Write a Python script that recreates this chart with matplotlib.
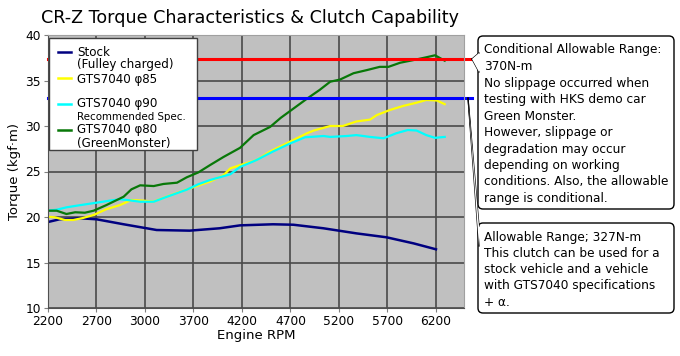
import numpy as np
import matplotlib
matplotlib.use('Agg')
import matplotlib.pyplot as plt
from matplotlib.patches import Rectangle, FancyBboxPatch, Polygon
from matplotlib.lines import Line2D
from matplotlib.transforms import IdentityTransform

# data
stock_rpm = [2200, 2320, 2530, 2700, 2980, 3320, 3660, 3970, 4180, 4520, 4730, 5040, 5380, 5690, 5970, 6200]
stock_tq = [19.45, 19.75, 19.86, 19.75, 19.2, 18.57, 18.5, 18.76, 19.08, 19.2, 19.15, 18.76, 18.2, 17.77, 17.1, 16.45]

p85_rpm = [2200, 2270, 2375, 2460, 2560, 2670, 2800, 2940, 3060, 3180, 3290, 3490, 3664, 3870, 4010, 4080,
           4180, 4350, 4490, 4700, 4870, 4940, 5110, 5240, 5380, 5520, 5590, 5725, 5860, 6000, 6100, 6210, 6290]
p85_tq = [20.03, 19.97, 19.67, 19.67, 19.89, 20.22, 20.85, 21.3, 21.87, 21.8, 21.7, 22.5, 23.15, 23.9, 24.6, 25.35,
          25.7, 26.26, 27.2, 28.3, 29.2, 29.5, 30.0, 30.0, 30.5, 30.7, 31.2, 31.76, 32.2, 32.56, 32.86, 32.8, 32.4]

p90_rpm = [2200, 2290, 2390, 2530, 2700, 2840, 2940, 3010, 3150, 3290, 3420, 3630, 3750, 3870, 4080, 4180,
           4350, 4520, 4700, 4850, 5040, 5110, 5280, 5380, 5520, 5660, 5790, 5910, 6000, 6100, 6190, 6290]
p90_tq = [20.7, 20.8, 21.06, 21.3, 21.57, 21.8, 21.95, 21.87, 21.68, 21.68, 22.2, 23.0, 23.6, 24.06, 24.7, 25.5,
          26.26, 27.2, 28.1, 28.76, 28.9, 28.8, 28.9, 29.0, 28.8, 28.65, 29.2, 29.56, 29.5, 29.0, 28.7, 28.8]

p80_rpm = [2200, 2290, 2390, 2480, 2580, 2670, 2800, 2980, 3060, 3150, 3290, 3390, 3530, 3630, 3750, 3870,
           4010, 4180, 4320, 4490, 4600, 4870, 5000, 5110, 5210, 5350, 5490, 5620, 5710, 5830, 5970, 6100, 6190, 6290]
p80_tq = [20.69, 20.69, 20.33, 20.52, 20.47, 20.69, 21.3, 22.23, 23.04, 23.48, 23.4, 23.63, 23.77, 24.36, 24.9, 25.7,
          26.6, 27.6, 29.0, 29.9, 30.9, 33.0, 33.96, 34.87, 35.1, 35.8, 36.15, 36.5, 36.5, 36.95, 37.25, 37.55, 37.77, 37.18]

limit_cond = 37.4   # 370N-m
limit_std = 33.1    # 327N-m

xticks = [2200, 2700, 3200, 3700, 4200, 4700, 5200, 5700, 6200]
xlabels = ['2200', '2700', '3000', '3700', '4200', '4700', '5200', '5700', '6200']
yticks = [10, 15, 20, 25, 30, 35, 40]

box1_lines = ['Conditional Allowable Range:', '370N-m', 'No slippage occurred when',
              'testing with HKS demo car', 'Green Monster.', 'However, slippage or',
              'degradation may occur', 'depending on working',
              'conditions. Also, the allowable', 'range is conditional.']
box2_lines = ['Allowable Range; 327N-m', 'This clutch can be used for a',
              'stock vehicle and a vehicle', 'with GTS7040 specifications', '+ \u03b1.']

W, H = 680, 356
fig = plt.figure(figsize=(W/100, H/100), dpi=100)
fig.patch.set_facecolor('white')

def fx(x):
    return x / W
def fy(y):
    return 1 - y / H

ax = fig.add_axes([fx(48), fy(308), (464-48)/W, (308-35)/H])
ax.set_facecolor('#c0c0c0')
ax.set_xlim(2200, 6489)
ax.set_ylim(10, 40)
ax.set_xticks(xticks)
ax.set_xticklabels(xlabels)
ax.set_yticks(yticks)
ax.tick_params(labelsize=8.8, length=3, color='#808080', pad=2)
ax.grid(True, color='#4a4a4a', lw=1.2)
ax.set_axisbelow(True)
for s in ['left', 'bottom']:
    ax.spines[s].set_color('#505050')
for s in ['top', 'right']:
    ax.spines[s].set_color('#a0a0a0')

ax.plot(stock_rpm, stock_tq, color='#000080', lw=1.8)
ax.plot(p85_rpm, p85_tq, color='#ffff00', lw=1.6)
ax.plot(p90_rpm, p90_tq, color='#00ffff', lw=1.6)
ax.plot(p80_rpm, p80_tq, color='#087808', lw=1.6)

ax.plot([2200, 6575], [limit_cond, limit_cond], color='#ff0000', lw=2.2, clip_on=False)
ax.plot([2200, 6575], [limit_std, limit_std], color='#0000ff', lw=2.2, clip_on=False)

ax.set_xlabel('Engine RPM', fontsize=9.5, labelpad=1)
ax.set_ylabel('Torque (kgf\u00b7m)', fontsize=9.5, labelpad=3)
fig.text(fx(250), fy(18), 'CR-Z Torque Characteristics & Clutch Capability',
         fontsize=12.6, ha='center', va='center')

# legend box
fig.patches.append(Rectangle((fx(49), fy(150)), 148/W, 112/H, transform=fig.transFigure,
                             facecolor='white', edgecolor='#404040', lw=1))
leg = [('#000080', 51.5, ['Stock', '(Fulley charged)'], [52.5, 64.5]),
       ('#ffff00', 78, ['GTS7040 \u03c685'], [79]),
       ('#00ffff', 104, ['GTS7040 \u03c690'], [103.5]),
       ('#087808', 130, ['GTS7040 \u03c680', '(GreenMonster)'], [130, 143])]
for c, ly, labs, tys in leg:
    fig.lines.append(Line2D([fx(58), fx(71)], [fy(ly), fy(ly)], transform=fig.transFigure, color=c, lw=1.8))
    for t, ty in zip(labs, tys):
        fig.text(fx(77), fy(ty), t, fontsize=8.6, va='center', ha='left')
fig.text(fx(77), fy(117), 'Recommended Spec.', fontsize=7.4, va='center', ha='left')

# callout boxes (display pixels)
def box(x0, y0, x1, y1):
    p = FancyBboxPatch((x0, H - y1), x1 - x0, y1 - y0, boxstyle='round,pad=0,rounding_size=5',
                       transform=IdentityTransform(), facecolor='white', edgecolor='black', lw=1)
    fig.patches.append(p)

def pointer(tip, b0, b1):
    pts = [(tip[0], H - tip[1]), (b0[0], H - b0[1]), (b1[0], H - b1[1])]
    fig.patches.append(Polygon(pts, closed=True, transform=IdentityTransform(),
                               facecolor='white', edgecolor='none', zorder=3))
    for b in (b0, b1):
        fig.lines.append(Line2D([tip[0], b[0]], [H - tip[1], H - b[1]], transform=IdentityTransform(),
                                color='black', lw=0.9, zorder=3))

box(478, 36, 674, 209)
box(478, 223, 674, 313)
pointer((472, 59), (479, 53), (479, 72))
pointer((468, 98), (479, 226), (479, 246))

for i, t in enumerate(box1_lines):
    fig.text(fx(484), fy(50 + i*16.5), t, fontsize=8.7, va='center', ha='left')
for i, t in enumerate(box2_lines):
    fig.text(fx(484), fy(237 + i*16.3), t, fontsize=8.7, va='center', ha='left')

fig.savefig('out.png', dpi=100)
